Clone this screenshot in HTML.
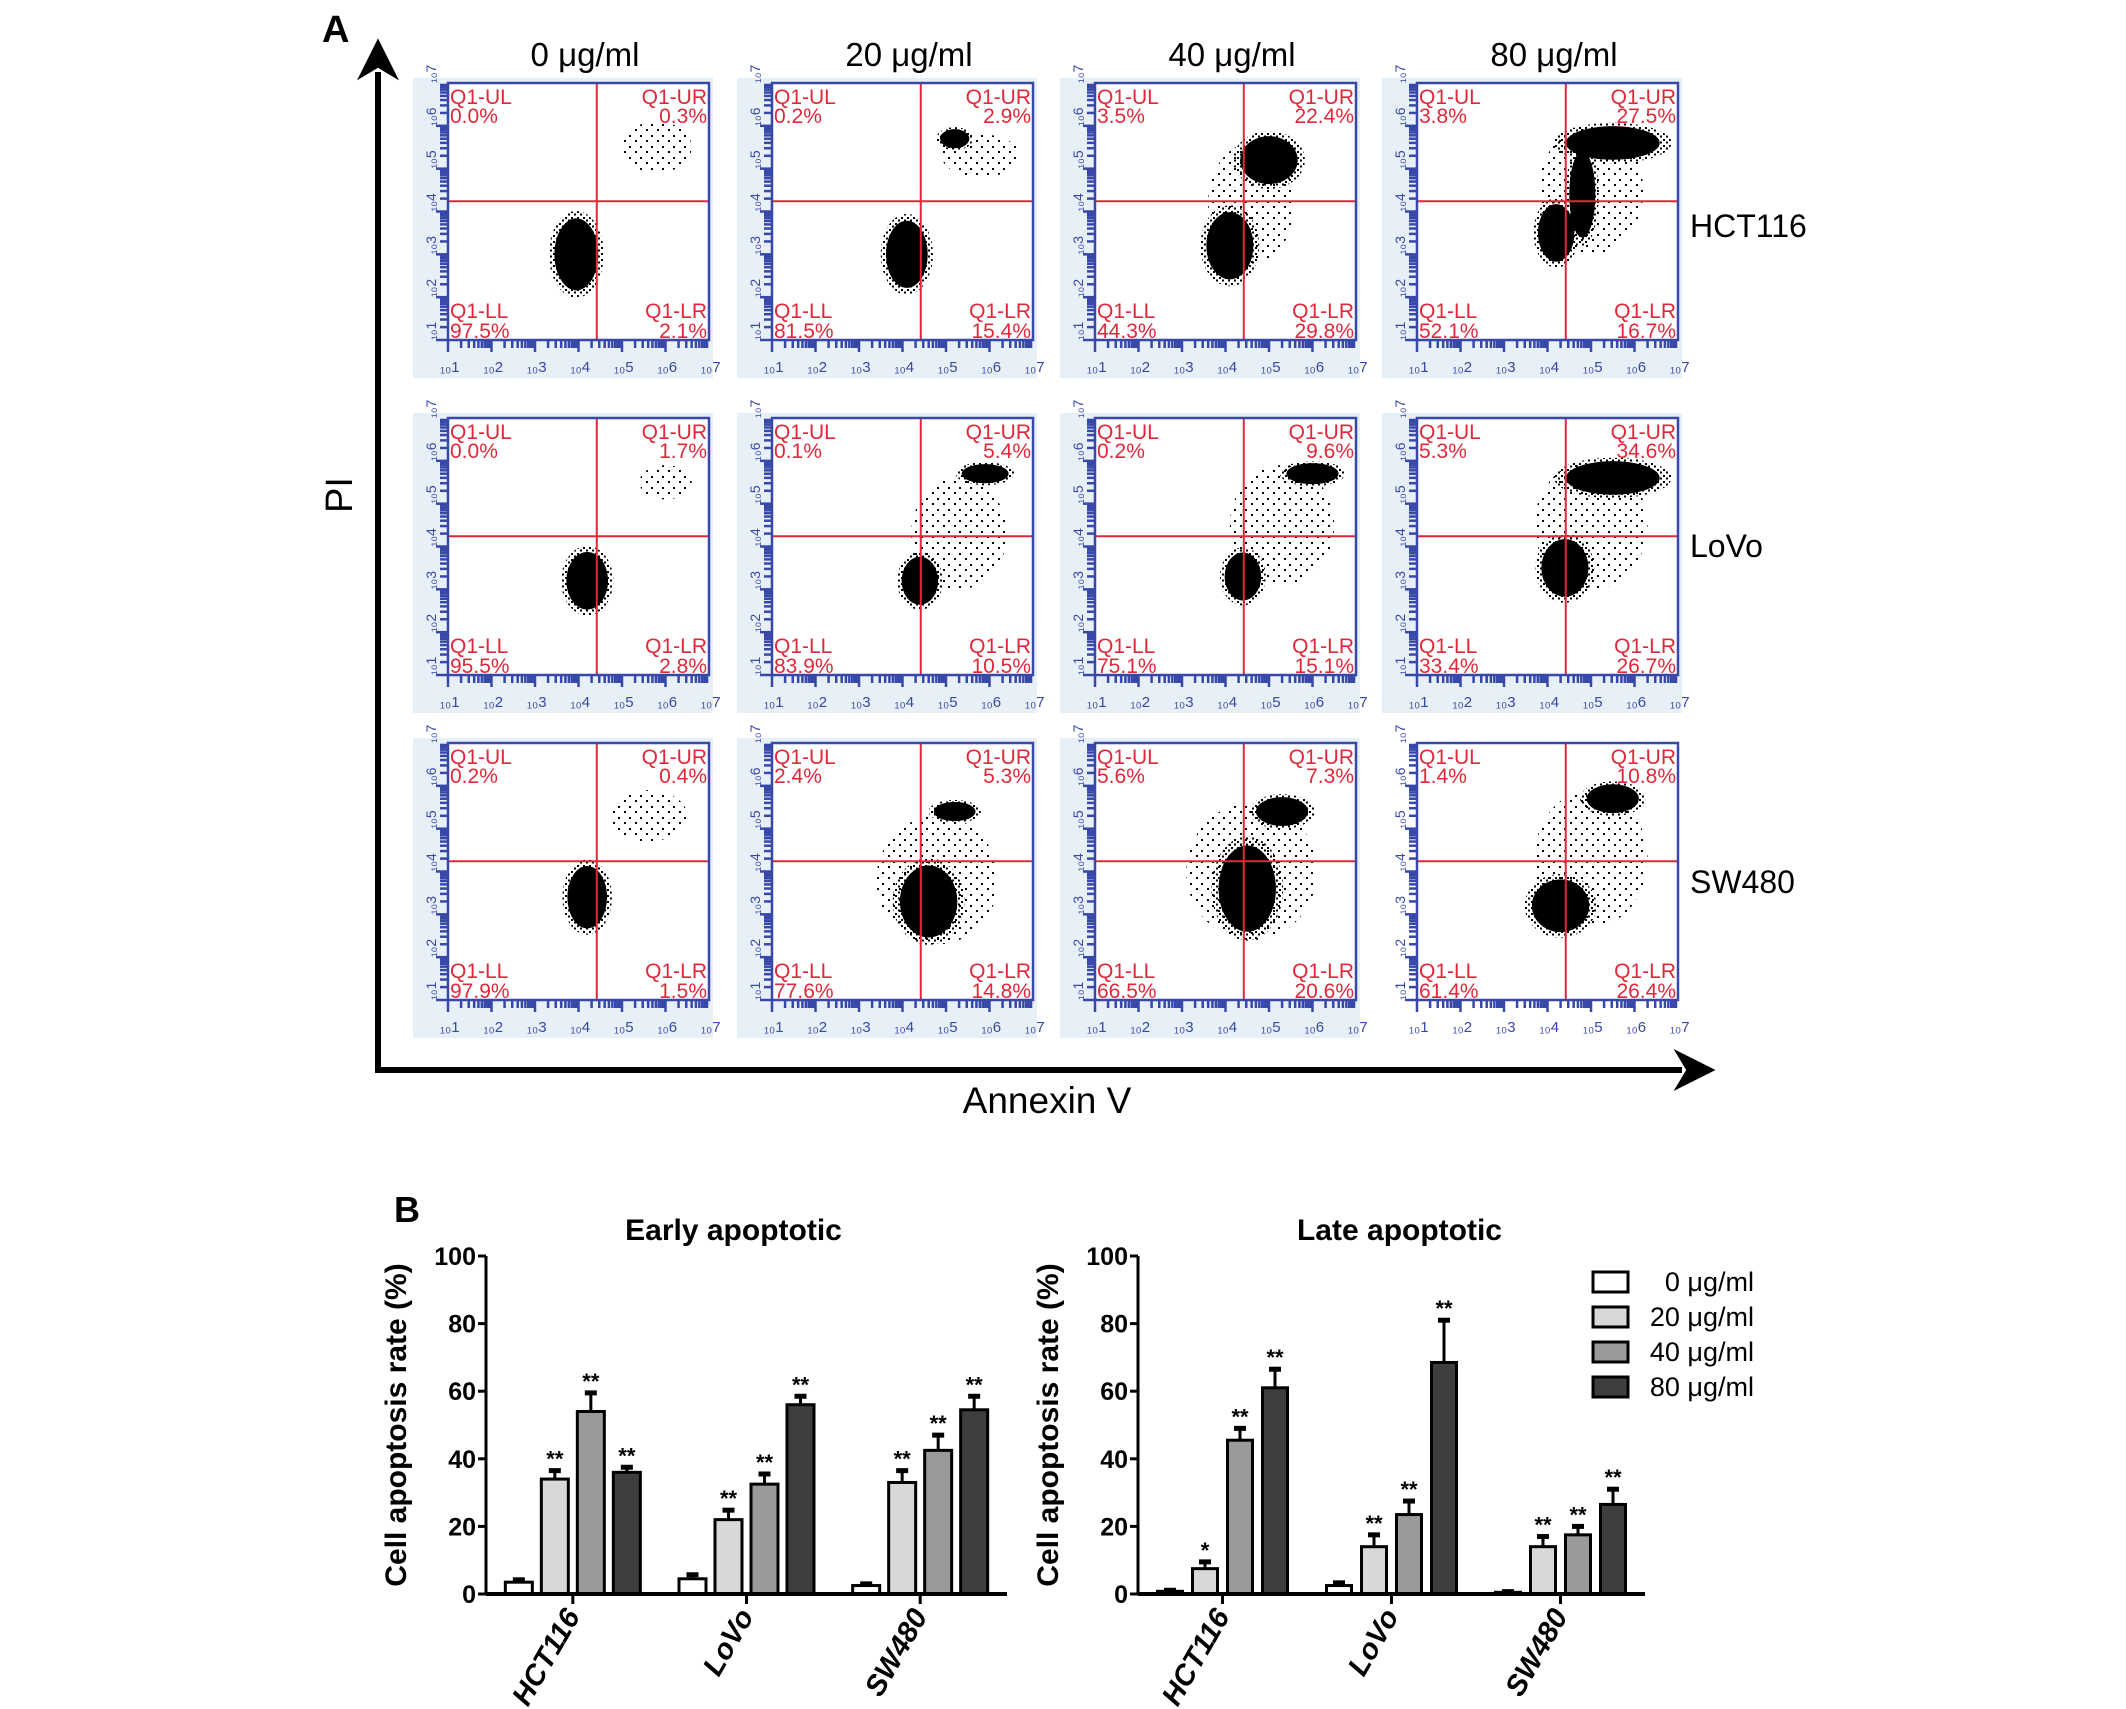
<!DOCTYPE html>
<html><head><meta charset="utf-8">
<style>
html,body{margin:0;padding:0;background:#fff;}
svg{display:block;font-family:"Liberation Sans",sans-serif;}
</style></head>
<body>
<svg id="fig" width="2126" height="1709" viewBox="0 0 2126 1709" xmlns="http://www.w3.org/2000/svg">
<defs>
<pattern id="spk" width="6" height="6" patternUnits="userSpaceOnUse">
<rect x="1" y="1" width="2" height="2" fill="#000"/><rect x="4" y="3.5" width="2" height="2" fill="#000"/>
</pattern>
<pattern id="spk2" width="11" height="11" patternUnits="userSpaceOnUse">
<rect x="2" y="3" width="2" height="2" fill="#000"/><rect x="8" y="8" width="2" height="2" fill="#000"/>
</pattern>
<marker id="ah" viewBox="0 0 10 10" refX="2" refY="5" markerWidth="7" markerHeight="7" orient="auto"><path d="M0,0 L10,5 L0,10 L3,5 z" fill="#000"/></marker>
</defs>
<text x="322" y="42" font-size="38" font-weight="bold">A</text>
<text x="394" y="1222" font-size="36" font-weight="bold">B</text>
<g id="flow"></g>
<g id="bars"></g>
</svg>
<script>
const NS="http://www.w3.org/2000/svg";
function mk(parent,tag,attrs,text){const e=document.createElementNS(NS,tag);for(const k in attrs)e.setAttribute(k,attrs[k]);if(text!==undefined)e.textContent=text;parent.appendChild(e);return e;}

// ---------- Panel A data ----------
const concLabels=["0 μg/ml","20 μg/ml","40 μg/ml","80 μg/ml"];
const cellLines=["HCT116","LoVo","SW480"];
const pctUL=[["0.0","0.2","3.5","3.8"],["0.0","0.1","0.2","5.3"],["0.2","2.4","5.6","1.4"]];
const pctUR=[["0.3","2.9","22.4","27.5"],["1.7","5.4","9.6","34.6"],["0.4","5.3","7.3","10.8"]];
const pctLL=[["97.5","81.5","44.3","52.1"],["95.5","83.9","75.1","33.4"],["97.9","77.6","66.5","61.4"]];
const pctLR=[["2.1","15.4","29.8","16.7"],["2.8","10.5","15.1","26.7"],["1.5","14.8","20.6","26.4"]];
// clusters in log10 units: [cx, cy, rx, ry]
const denseClusters=[
 [[[3.95,3.0,0.42,0.75]],[[4.1,3.0,0.4,0.7],[5.2,5.7,0.28,0.2]],[[4.1,3.2,0.45,0.7],[5.0,5.2,0.55,0.5]],[[4.2,3.5,0.35,0.6],[5.5,5.6,0.9,0.35],[4.8,4.4,0.25,0.9]]],
 [[[4.2,3.2,0.4,0.6]],[[4.4,3.2,0.35,0.5],[5.9,5.7,0.45,0.2]],[[4.4,3.3,0.35,0.5],[6.0,5.7,0.5,0.22]],[[4.4,3.5,0.45,0.6],[5.5,5.6,0.9,0.35]]],
 [[[4.2,3.4,0.38,0.65]],[[4.6,3.3,0.55,0.75],[5.2,5.4,0.4,0.2]],[[4.5,3.6,0.55,0.9],[5.3,5.4,0.5,0.3]],[[4.3,3.2,0.55,0.55],[5.5,5.7,0.5,0.3]]]
];
const sparseClusters=[
 [[[5.8,5.5,0.8,0.6]],[[5.8,5.3,0.9,0.5]],[[4.6,4.2,1.0,1.4]],[[5.0,4.5,1.2,1.5]]],
 [[[6.0,5.5,0.6,0.4]],[[5.3,4.3,1.1,1.3]],[[5.3,4.5,1.2,1.4]],[[5.0,4.5,1.3,1.5]]],
 [[[5.6,5.3,0.9,0.6]],[[4.8,3.8,1.4,1.5]],[[4.6,4.0,1.5,1.6]],[[5.0,4.3,1.3,1.6]]]
];
const quadX=4.42, quadY=4.24;
const panelLeft=[413,737,1060,1382], panelTop=[78,413,738], panelW=300, panelH=300;

const flow=document.getElementById('flow');
let ya=mk(flow,'line',{x1:378,y1:1070,x2:378,y2:72,stroke:'#000','stroke-width':6,'marker-end':'url(#ah)'});


let xa=mk(flow,'line',{x1:375,y1:1070,x2:1682,y2:1070,stroke:'#000','stroke-width':6,'marker-end':'url(#ah)'});


let pil=mk(flow,'text',{x:352,y:495,'font-size':38,'text-anchor':'middle',transform:'rotate(-90 352 495)'},'PI');


let anl=mk(flow,'text',{x:1047,y:1113,'font-size':37,'text-anchor':'middle'},'Annexin V');


concLabels.forEach((c,j)=>{
 const t=mk(flow,'text',{x:panelLeft[j]+172,y:66,'font-size':33,'text-anchor':'middle'},c);
 
 
});
const rowLabelY=[237,557,893];
cellLines.forEach((c,i)=>{
 const t=mk(flow,'text',{x:1690,y:rowLabelY[i],'font-size':32},c);
 
 
});

for(let i=0;i<3;i++)for(let j=0;j<4;j++){
 const px=panelLeft[j], py=panelTop[i];
 const g=mk(flow,'g',{});
 
 
 if(!(i===2&&j===3)) mk(g,'rect',{x:px,y:py,width:panelW,height:panelH,fill:'#e7eff7'});
 const bx=px+35, by=py+5, bw=261, bh=257;
 const X=v=>bx+(v-1)/6*bw, Y=v=>by+bh-(v-1)/6*bh;
 mk(g,'rect',{x:bx,y:by,width:bw,height:bh,fill:'#fff'});
 for(let d=1;d<7;d++){for(let m=1;m<10;m++){const lv=d+Math.log10(m);const len=m===1?12:8;
  mk(g,'line',{x1:X(lv),y1:by+bh,x2:X(lv),y2:by+bh+len,stroke:'#3848a8','stroke-width':2.5});
  mk(g,'line',{x1:bx,y1:Y(lv),x2:bx-len,y2:Y(lv),stroke:'#3848a8','stroke-width':2.5});}}
 for(let d=1;d<=7;d++){
  mk(g,'text',{x:X(d)-8,y:by+bh+32,'font-size':15,fill:'#3848a8'},'₁₀'+d);
  mk(g,'text',{x:bx-20,y:Y(d)+8,'font-size':14,fill:'#3848a8',transform:'rotate(-90 '+(bx-20)+' '+Y(d)+')'},'₁₀'+d);
 }
 const cid='cp'+i+j;
 const cp=mk(g,'clipPath',{id:cid}); mk(cp,'rect',{x:bx,y:by,width:bw,height:bh});
 const cg=mk(g,'g',{'clip-path':'url(#'+cid+')'});
 sparseClusters[i][j].forEach(c=>{
  const e=mk(cg,'ellipse',{cx:X(c[0]),cy:Y(c[1]),rx:c[2]/6*bw,ry:c[3]/6*bh,fill:'url(#spk2)'});
  
  
 });
 denseClusters[i][j].forEach(c=>{
  const e1=mk(cg,'ellipse',{cx:X(c[0]),cy:Y(c[1]),rx:c[2]/6*bw*1.5,ry:c[3]/6*bh*1.35,fill:'url(#spk)'});
  
  
  const e=mk(cg,'ellipse',{cx:X(c[0]),cy:Y(c[1]),rx:c[2]/6*bw*1.2,ry:c[3]/6*bh*1.12,fill:'#000'});
  
  
 });
 mk(g,'line',{x1:X(quadX),y1:by,x2:X(quadX),y2:by+bh,stroke:'#e0283a','stroke-width':2});
 mk(g,'line',{x1:bx,y1:Y(quadY),x2:bx+bw,y2:Y(quadY),stroke:'#e0283a','stroke-width':2});
 mk(g,'rect',{x:bx,y:by,width:bw,height:bh,fill:'none',stroke:'#3848a8','stroke-width':2.5});
 const red='#e0283a', fs=21;
 mk(g,'text',{x:bx+2,y:by+21,'font-size':fs,fill:red},'Q1-UL');
 mk(g,'text',{x:bx+2,y:by+40,'font-size':fs,fill:red},pctUL[i][j]+'%');
 mk(g,'text',{x:bx+bw-2,y:by+21,'font-size':fs,fill:red,'text-anchor':'end'},'Q1-UR');
 mk(g,'text',{x:bx+bw-2,y:by+40,'font-size':fs,fill:red,'text-anchor':'end'},pctUR[i][j]+'%');
 mk(g,'text',{x:bx+2,y:by+bh-22,'font-size':fs,fill:red},'Q1-LL');
 mk(g,'text',{x:bx+2,y:by+bh-2,'font-size':fs,fill:red},pctLL[i][j]+'%');
 mk(g,'text',{x:bx+bw-2,y:by+bh-22,'font-size':fs,fill:red,'text-anchor':'end'},'Q1-LR');
 mk(g,'text',{x:bx+bw-2,y:by+bh-2,'font-size':fs,fill:red,'text-anchor':'end'},pctLR[i][j]+'%');
}

// ---------- Panel B data ----------
const groups=["HCT116","LoVo","SW480"];
const yTicks=[0,20,40,60,80,100];
const earlyVals=[[3.5,34,54,36],[4.5,22,32.5,56],[2.5,33,42.5,54.5]];
const earlyErr=[[0.7,2.5,5.5,1.5],[1.2,2.8,3,2.5],[0.5,3.5,4.5,4]];
const earlySig=[["","**","**","**"],["","**","**","**"],["","**","**","**"]];
const lateVals=[[0.8,7.5,45.5,61],[2.5,14,23.5,68.5],[0.5,14,17.5,26.5]];
const lateErr=[[0.3,2,3.5,5.5],[0.8,3.5,4,12.5],[0.2,3,2.5,4.5]];
const lateSig=[["","*","**","**"],["","**","**","**"],["","**","**","**"]];
const fills=["#ffffff","#d8d8d8","#9a9a9a","#3e3e3e"];

const bars=document.getElementById('bars');
function chart(name,title,x0,x1,vals,errs,sigs,step,bw){
 const g=mk(bars,'g',{});
 
 
 const y0=1594,yTop=1256;
 const Y=v=>y0-(v/100)*(y0-yTop);
 const gw=(x1-x0)/groups.length;
 const t=mk(g,'text',{x:(x0+x1)/2+ (name==='early-chart'?-13:8),y:1240,'font-size':30,'font-weight':'bold','text-anchor':'middle'},title);
 
 
 const lx=x0-80, ly=(y0+yTop)/2;
 const yl=mk(g,'text',{x:lx,y:ly,'font-size':30,'font-weight':'bold','text-anchor':'middle',transform:'rotate(-90 '+lx+' '+ly+')'},'Cell apoptosis rate (%)');
 
 
 yTicks.forEach(v=>{
  mk(g,'line',{x1:x0,y1:Y(v),x2:x0-8,y2:Y(v),stroke:'#000','stroke-width':3});
  const tl=mk(g,'text',{x:x0-10,y:Y(v)+9,'font-size':25,'font-weight':'bold','text-anchor':'end'},v);
  
  
 });
 groups.forEach((gn,gi)=>{
  const cx=x0+(gi+0.5)*gw;
  mk(g,'line',{x1:cx,y1:y0,x2:cx,y2:y0+10,stroke:'#000','stroke-width':3});
  const lx2=cx+8, ly2=y0+22;
  const cl=mk(g,'text',{x:lx2,y:ly2,'font-size':29,'font-weight':'bold','font-style':'italic','text-anchor':'end',transform:'rotate(-60 '+lx2+' '+ly2+')'},gn);
  
  
  vals[gi].forEach((v,k)=>{
   const bc=cx+(k-1.5)*step;
   const top=Y(v), eTop=Y(v+errs[gi][k]);
   mk(g,'line',{x1:bc,y1:top,x2:bc,y2:eTop,stroke:'#000','stroke-width':3});
   mk(g,'line',{x1:bc-6,y1:eTop,x2:bc+6,y2:eTop,stroke:'#000','stroke-width':5});
   const r=mk(g,'rect',{x:bc-bw/2,y:top,width:bw,height:y0-top,fill:fills[k],stroke:'#000','stroke-width':3});
   
   
   if(sigs[gi][k]){
    const s=mk(g,'text',{x:bc,y:eTop-4,'font-size':22,'font-weight':'bold','text-anchor':'middle'},sigs[gi][k]);
    
    
   }
  });
 });
 mk(g,'line',{x1:x0,y1:y0,x2:x0,y2:yTop,stroke:'#000','stroke-width':3});
 mk(g,'line',{x1:x0,y1:y0,x2:x1,y2:y0,stroke:'#000','stroke-width':4});
}
chart('early-chart','Early apoptotic',486,1007,earlyVals,earlyErr,earlySig,36,27);
chart('late-chart','Late apoptotic',1138,1645,lateVals,lateErr,lateSig,35,25);

const lg=mk(bars,'g',{});


concLabels.forEach((c,k)=>{
 const y=1272+k*35;
 const r=mk(lg,'rect',{x:1593,y:y,width:35,height:20,fill:fills[k],stroke:'#000','stroke-width':3});
 
 
 const t=mk(lg,'text',{x:1754,y:y+19,'font-size':27,'text-anchor':'end'},c);
 
 
});
</script>
</body></html>
